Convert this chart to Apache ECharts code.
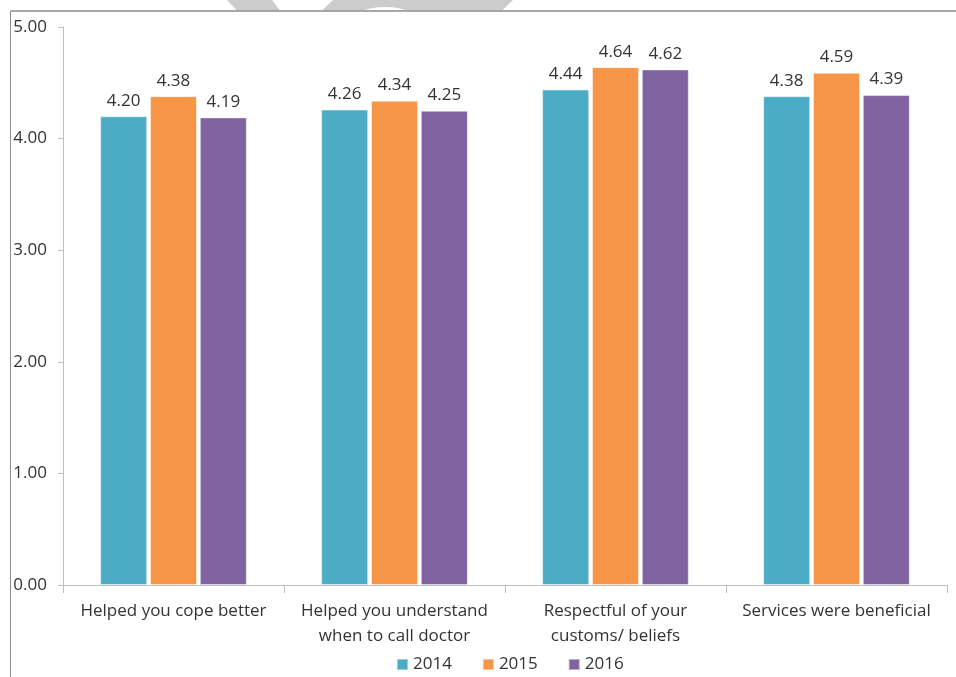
<!DOCTYPE html>
<html><head><meta charset="utf-8">
<script src="https://cdn.jsdelivr.net/npm/echarts@6/dist/echarts.min.js"></script>
<style>html,body{margin:0;padding:0;background:#fff}#c{width:956px;height:677px}</style>
</head><body><div id="c"></div>
<script>
const categories = ['Helped you cope better', 'Helped you understand\nwhen to call doctor', 'Respectful of your\ncustoms/ beliefs', 'Services were beneficial'];
const years = ['2014', '2015', '2016'];
const values2014 = [4.20, 4.26, 4.44, 4.38];
const values2015 = [4.38, 4.34, 4.64, 4.59];
const values2016 = [4.19, 4.25, 4.62, 4.39];
const yTicks = [0, 1, 2, 3, 4, 5];
const colors = ['#4BACC6', '#F79646', '#8064A2'];
const font = '"Open Sans", "Noto Sans", sans-serif';
const txt = '#333333';
const chart = echarts.init(document.getElementById('c'), null, {renderer: 'canvas'});
const mk = (name, data, i) => ({
  name, type: 'bar', data, barWidth: 47, barGap: '6%',
  itemStyle: {color: colors[i], borderColor: 'rgba(255,255,255,0.45)', borderWidth: 1},
  label: {show: true, position: 'top', distance: 7, color: txt, fontSize: 17, fontFamily: font,
    formatter: p => p.value.toFixed(2)}
});
chart.setOption({
  animation: false,
  backgroundColor: '#fff',
  graphic: [
    {type: 'polygon', shape: {points: [[227, 0], [272, 0], [280, 10.5], [237, 10.5]]}, style: {fill: '#cccccc'}, silent: true},
    {type: 'polygon', shape: {points: [[333, 0], [513, 0], [502, 10.5], [322, 10.5]]}, style: {fill: '#cccccc'}, silent: true},
    {type: 'polygon', shape: {points: [[363, 10.5], [370, 8.5], [378, 7.3], [385, 7], [393, 7.3], [400, 8.5], [407, 10.5]]}, style: {fill: '#ffffff'}, silent: true},
    {type: 'line', shape: {x1: 10.5, y1: 11, x2: 956, y2: 11}, style: {stroke: '#8c8c8c', lineWidth: 1.5}},
    {type: 'line', shape: {x1: 10.5, y1: 11, x2: 10.5, y2: 677}, style: {stroke: '#8c8c8c', lineWidth: 1}}
  ],
  grid: {left: 63, right: 9, top: 27, bottom: 92},
  legend: {data: years, top: 651, left: 391, itemWidth: 11, itemHeight: 11, itemGap: 30,
    icon: 'rect', textStyle: {fontSize: 17, color: txt, fontFamily: font}},
  xAxis: {type: 'category', data: categories,
    axisLine: {lineStyle: {color: '#bfbfbf'}},
    axisTick: {show: true, length: 8, lineStyle: {color: '#bfbfbf'}},
    axisLabel: {color: txt, fontSize: 17, fontFamily: font, margin: 14, lineHeight: 25, interval: 0}},
  yAxis: {type: 'value', min: 0, max: 5, interval: 1,
    axisLine: {show: true, lineStyle: {color: '#bfbfbf'}},
    axisTick: {show: true, length: 5, lineStyle: {color: '#bfbfbf'}},
    splitLine: {show: false},
    axisLabel: {color: txt, fontSize: 17, fontFamily: font, margin: 16, formatter: v => v.toFixed(2)}},
  series: [mk(years[0], values2014, 0), mk(years[1], values2015, 1), mk(years[2], values2016, 2)]
});
</script></body></html>
